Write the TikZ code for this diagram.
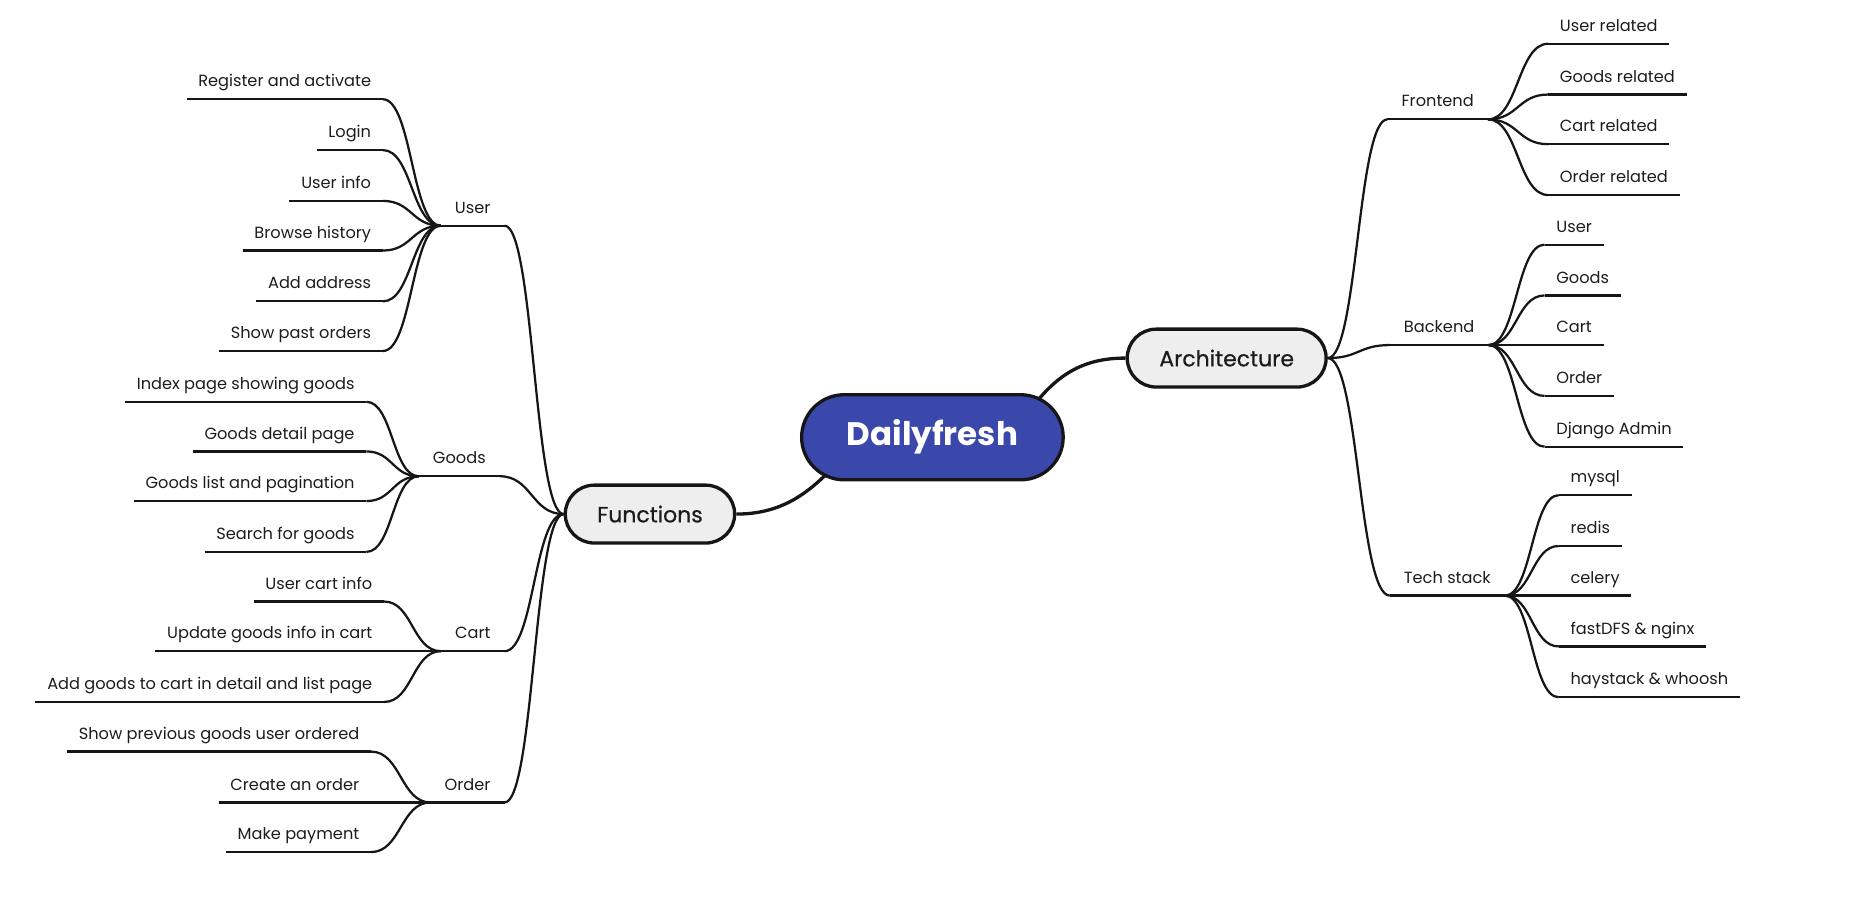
\documentclass[tikz,border=0pt]{standalone}
\usepackage{fontspec}
\setmainfont{Poppins}
\newfontfamily\medfont[FakeBold=0.6]{Poppins}
\usetikzlibrary{calc,shapes.misc,backgrounds}
\definecolor{rootblue}{RGB}{58,72,172}
\definecolor{ln}{RGB}{22,22,22}
\definecolor{txt}{RGB}{28,28,28}
\definecolor{pillgray}{RGB}{238,238,238}
\tikzset{
  lbl/.style={font=\fontsize{13.7}{15}\selectfont, text=txt, inner xsep=10pt, inner ysep=10.5pt, text depth=0pt, outer sep=0pt},
  par/.style={lbl, inner xsep=12pt},
  br/.style={draw=ln, line width=1.9pt},
  mainbr/.style={draw=ln, line width=2.8pt},
  scurve/.style={to path={let \p1=(\tikztostart),\p2=(\tikztotarget) in .. controls ({(\x1+\x2)/2},\y1) and ({(\x1+\x2)/2},\y2) .. (\tikztotarget)}},
  pill/.style={rounded rectangle, draw=ln, line width=2.8pt, fill=pillgray, minimum height=49pt, font=\medfont\fontsize{18.6}{21}\selectfont, text=txt},
}
\begin{document}
\begin{tikzpicture}[x=1pt,y=-1pt]
\useasboundingbox (0,0) rectangle (1568,764);
% main nodes
\node[rounded rectangle, draw=ln, line width=2.8pt, fill=rootblue, minimum width=228pt, minimum height=72pt, text=white, font=\bfseries\fontsize{27.5}{31}\selectfont] (root) at (789,370) {Dailyfresh};
\node[pill, minimum width=150pt] (fun) at (550,435) {Functions};
\node[pill, minimum width=175pt] (arch) at (1038,303) {Architecture};
% left parents
\node[par, anchor=south east] (user) at (427,191) {User};
\node[par, anchor=south east] (goods) at (423,403) {Goods};
\node[par, anchor=south east] (cart) at (427,551) {Cart};
\node[par, anchor=south east] (order) at (427,679) {Order};
% user children
\node[lbl, anchor=south east] (u1) at (324,84) {Register and activate};
\node[lbl, anchor=south east] (u2) at (324,127) {Login};
\node[lbl, anchor=south east] (u3) at (324,170) {User info};
\node[lbl, anchor=south east] (u4) at (324,212) {Browse history};
\node[lbl, anchor=south east] (u5) at (324,255) {Add address};
\node[lbl, anchor=south east] (u6) at (324,297) {Show past orders};
% goods children
\node[lbl, anchor=south east] (g1) at (310,340) {Index page showing goods};
\node[lbl, anchor=south east] (g2) at (310,382) {Goods detail page};
\node[lbl, anchor=south east] (g3) at (310,424) {Goods list and pagination};
\node[lbl, anchor=south east] (g4) at (310,467) {Search for goods};
% cart children
\node[lbl, anchor=south east] (c1) at (325,509) {User cart info};
\node[lbl, anchor=south east] (c2) at (325,551) {Update goods info in cart};
\node[lbl, anchor=south east] (c3) at (325,594) {Add goods to cart in detail and list page};
% order children
\node[lbl, anchor=south east] (o1) at (314,636) {Show previous goods user ordered};
\node[lbl, anchor=south east] (o2) at (314,679) {Create an order};
\node[lbl, anchor=south east] (o3) at (314,721) {Make payment};
% right parents
\node[par, anchor=south west] (front) at (1174,101) {Frontend};
\node[par, anchor=south west] (back) at (1176,292) {Backend};
\node[par, anchor=south west] (tech) at (1176,504) {Tech stack};
% frontend children
\node[lbl, anchor=south west] (f1) at (1310,37) {User related};
\node[lbl, anchor=south west] (f2) at (1310,80) {Goods related};
\node[lbl, anchor=south west] (f3) at (1310,122) {Cart related};
\node[lbl, anchor=south west] (f4) at (1310,165) {Order related};
% backend children
\node[lbl, anchor=south west] (b1) at (1307,207) {User};
\node[lbl, anchor=south west] (b2) at (1307,250) {Goods};
\node[lbl, anchor=south west] (b3) at (1307,292) {Cart};
\node[lbl, anchor=south west] (b4) at (1307,335) {Order};
\node[lbl, anchor=south west] (b5) at (1307,378) {Django Admin};
% tech children
\node[lbl, anchor=south west] (t1) at (1319,419) {mysql};
\node[lbl, anchor=south west] (t2) at (1319,462) {redis};
\node[lbl, anchor=south west] (t3) at (1319,504) {celery};
\node[lbl, anchor=south west] (t4) at (1319,547) {fastDFS \& nginx};
\node[lbl, anchor=south west] (t5) at (1319,590) {haystack \& whoosh};
\coordinate (rootL) at (712,388);
\coordinate (rootR) at (868,352);
\begin{scope}[on background layer]
  \draw[mainbr] (fun.east) .. controls (665,435) and (688,414) .. (rootL);
  \draw[mainbr] (rootR) .. controls (892,318) and (915,303) .. (arch.west);
  % underlines
  \foreach \nm in {user,goods,cart,order,u1,u2,u3,u4,u5,u6,g1,g2,g3,g4,c1,c2,c3,o1,o2,o3,front,back,tech,f1,f2,f3,f4,b1,b2,b3,b4,b5,t1,t2,t3,t4,t5}
    \draw[br] (\nm.south west) -- (\nm.south east);
  % left branches
  \foreach \nm in {user,goods,cart,order}
    \draw[br] (fun.west) to[scurve] (\nm.south east);
  \foreach \nm in {u1,u2,u3,u4,u5,u6}
    \draw[br] (user.south west) to[scurve] (\nm.south east);
  \foreach \nm in {g1,g2,g3,g4}
    \draw[br] (goods.south west) to[scurve] (\nm.south east);
  \foreach \nm in {c1,c2,c3}
    \draw[br] (cart.south west) to[scurve] (\nm.south east);
  \foreach \nm in {o1,o2,o3}
    \draw[br] (order.south west) to[scurve] (\nm.south east);
  % right branches
  \foreach \nm in {front,back,tech}
    \draw[br] (arch.east) to[scurve] (\nm.south west);
  \foreach \nm in {f1,f2,f3,f4}
    \draw[br] (front.south east) to[scurve] (\nm.south west);
  \foreach \nm in {b1,b2,b3,b4,b5}
    \draw[br] (back.south east) to[scurve] (\nm.south west);
  \foreach \nm in {t1,t2,t3,t4,t5}
    \draw[br] (tech.south east) to[scurve] (\nm.south west);
\end{scope}
\end{tikzpicture}
\end{document}
